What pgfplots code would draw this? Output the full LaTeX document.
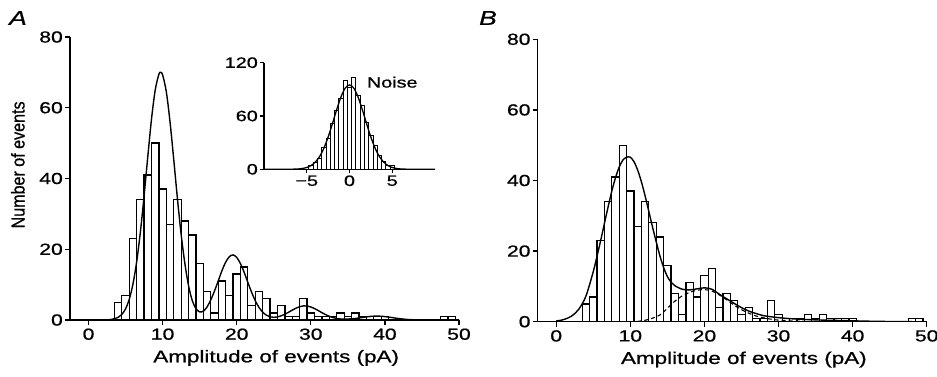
\documentclass[border=0pt]{standalone}
\usepackage{pgfplots}
\pgfplotsset{compat=1.18}
\usepackage{fontspec}
\setmainfont{Liberation Sans}
\newfontfamily\wide[FakeStretch=1.32,FakeBold=0.8]{Liberation Sans}
\newfontfamily\narrow[FakeStretch=0.865,FakeBold=0.8]{Liberation Sans}
\pgfplotsset{
  mainax/.style={
    scale only axis, width=389pt, height=283pt,
    xmin=-2.5, xmax=50, ymin=0, ymax=80,
    axis x line*=bottom, axis y line*=left,
    axis line style={line width=1.3pt},
    xtick={0,10,...,50}, ytick={0,20,...,80},
    tick style={line width=1.3pt, black}, tick align=outside,
    major tick length=5pt,
    tick label style={font=\wide\fontsize{16}{19}\selectfont},
    /pgf/number format/assume math mode=true,
    xlabel={Amplitude of events (pA)},
    xlabel style={font=\wide\fontsize{17}{20}\selectfont, at={(axis description cs:0.53,-0.134)}, anchor=center},
    yticklabel style={inner sep=2pt},
  },
  barsty/.style={ybar interval, fill=white, draw=black, line width=1.25pt},
  curvesty/.style={smooth, line width=1.4pt, black, mark=none},
}
\begin{document}
\begin{tikzpicture}
\path[use as bounding box] (0pt,0pt) rectangle (937pt,377pt);

% ---------------- Panel A ----------------
\begin{axis}[mainax, at={(70pt,57pt)}, anchor=south west,
  ylabel={Number of events},
  ylabel style={font=\narrow\fontsize{18.6}{22}\selectfont, at={(axis description cs:-0.134,0.548)}, anchor=center}]
\addplot[barsty] coordinates {(3.5,5) (4.5,7) (5.5,23) (6.5,34) (7.5,41) (8.5,50) (9.5,37) (10.5,27) (11.5,34) (12.5,28) (13.5,24) (14.5,16) (15.5,8) (16.5,2) (17.5,11) (18.5,7) (19.5,13) (20.5,15) (21.5,4) (22.5,8) (23.5,6) (24.5,2) (25.5,4) (26.5,1) (27.5,1) (28.5,6) (29.5,2) (30.5,1) (31.5,1) (32.5,1) (33.5,2) (34.5,1) (35.5,2) (36.5,1) (37.5,1) (38.5,1) (39.5,1) (40.5,0)};
\addplot[barsty] coordinates {(47.5,1) (48.5,1) (49.5,0)};
\addplot[curvesty] coordinates {(0,0) (1,0) (2,0.01) (3,0.13) (4,0.74) (4.5,1.58) (5,3.16) (5.5,5.87) (6,10.19) (6.5,16.5) (7,24.9) (7.5,35.1) (8,46.2) (8.5,56.8) (9,65.0) (9.5,69.5) (9.75,70.0) (10,69.3) (10.5,64.5) (11,56.0) (11.5,45.4) (12,34.3) (12.5,24.2) (13,16.0) (13.5,9.7) (14,5.5) (14.5,3.2) (15,2.3) (15.5,2.5) (16,3.7) (16.5,5.7) (17,8.2) (17.5,11.0) (18,13.9) (18.5,16.3) (19,17.9) (19.5,18.4) (20,17.7) (20.5,15.95) (21,13.5) (21.5,10.65) (22,7.89) (22.5,5.47) (23,3.57) (23.5,2.22) (24,1.37) (24.5,0.90) (25,0.76) (25.5,0.87) (26,1.18) (26.5,1.64) (27,2.19) (27.5,2.79) (28,3.34) (28.5,3.76) (29,3.98) (29.5,3.96) (30,3.69) (30.5,3.24) (31,2.67) (31.5,2.07) (32,1.51) (32.5,1.04) (33,0.68) (33.5,0.44) (34,0.29) (34.5,0.24) (35,0.26) (35.5,0.33) (36,0.42) (36.5,0.57) (37,0.73) (37.5,0.88) (38,1.00) (38.5,1.08) (39,1.10) (39.5,1.06) (40,0.96) (40.5,0.82) (41,0.67) (41.5,0.51) (42,0.37) (43,0.16) (44,0.06) (45,0.01) (50,0)};
\end{axis}

% ---------------- Inset ----------------
\begin{axis}[scale only axis, width=171pt, height=106.6pt, at={(264pt,207.7pt)}, anchor=south west,
  xmin=-10, xmax=10, ymin=0, ymax=120,
  axis x line*=bottom, axis y line*=left,
  axis line style={line width=1.2pt},
  xtick={-5,0,5}, xticklabels={−5,0,5}, ytick={0,60,120},
  tick style={line width=1.2pt, black}, tick align=outside, major tick length=4pt,
  tick label style={font=\wide\fontsize{15}{18}\selectfont},
  /pgf/number format/assume math mode=true,
  yticklabel style={inner sep=2pt}, xticklabel style={inner sep=2pt}]
\addplot[ybar interval, fill=white, draw=black, line width=0.95pt] coordinates {(-4.75,4) (-4.25,8) (-3.75,12) (-3.25,25) (-2.75,35) (-2.25,52) (-1.75,66) (-1.25,80) (-0.75,100) (-0.25,92) (0.25,103) (0.75,83) (1.25,72) (1.75,53) (2.25,38) (2.75,27) (3.25,15) (3.75,9) (4.25,4) (4.75,4) (5.25,0)};
\addplot[smooth, line width=1.3pt, black] coordinates {(-10,0) (-8,0) (-7,0.05) (-6,0.37) (-5.5,0.9) (-5,2.0) (-4.5,4.2) (-4,8.1) (-3.5,14.3) (-3,23.7) (-2.5,36.2) (-2,51.3) (-1.5,67.1) (-1,81.4) (-0.5,91.4) (0,95) (0.5,91.4) (1,81.4) (1.5,67.1) (2,51.3) (2.5,36.2) (3,23.7) (3.5,14.3) (4,8.1) (4.5,4.2) (5,2.0) (5.5,0.9) (6,0.37) (7,0.05) (8,0) (10,0)};
\node[font=\wide\fontsize{15}{18}\selectfont] at (axis cs:5.0,98) {Noise};
\end{axis}

% ---------------- Panel B ----------------
\begin{axis}[mainax, at={(537.7pt,55.3pt)}, anchor=south west, height=282.4pt]
\addplot[barsty] coordinates {(3.5,5) (4.5,7) (5.5,23) (6.5,34) (7.5,41) (8.5,50) (9.5,37) (10.5,27) (11.5,34) (12.5,28) (13.5,24) (14.5,16) (15.5,8) (16.5,2) (17.5,11) (18.5,7) (19.5,13) (20.5,15) (21.5,4) (22.5,8) (23.5,6) (24.5,2) (25.5,4) (26.5,1) (27.5,1) (28.5,6) (29.5,2) (30.5,1) (31.5,1) (32.5,1) (33.5,2) (34.5,1) (35.5,2) (36.5,1) (37.5,1) (38.5,1) (39.5,1) (40.5,0)};
\addplot[barsty] coordinates {(47.5,1) (48.5,1) (49.5,0)};
\addplot[curvesty] coordinates {(0,0.2) (1,0.6) (2,1.5) (3,3.4) (4,7.2) (5,14.2) (5.5,18.5) (6,23.0) (6.5,27.8) (7,32.5) (7.5,37.0) (8,40.8) (8.5,43.8) (9,45.8) (9.5,46.6) (10,46.6) (10.5,45.3) (11,42.9) (11.5,39.6) (12,35.6) (12.5,31.2) (13,26.8) (13.5,22.6) (14,18.6) (14.5,15.3) (15,12.8) (15.5,11.2) (16,10.2) (17,9.2) (18,9.0) (19,9.3) (20,9.6) (21,9.2) (22,7.8) (23,6.5) (24,5.2) (25,4.0) (26,3.0) (27,2.3) (28,1.7) (29,1.4) (30,1.15) (31,0.95) (32,0.8) (34,0.6) (36,0.45) (38,0.35) (40,0.25) (42,0.15) (44,0.08) (46,0.03) (48,0)};
\addplot[smooth, line width=1.1pt, black, dash pattern=on 4pt off 3pt] coordinates {(10,0) (11,0.1) (12,0.4) (13,1.0) (14,1.9) (15,3.8) (16,5.8) (17,7.3) (18,8.3) (19,8.9) (20,9.1) (21,8.7) (22,7.6) (23,6.2) (24,4.7) (25,3.4) (26,2.4) (27,1.6) (28,1.1) (29,0.7) (30,0.45) (32,0.2) (34,0.08) (36,0.02) (38,0)};
\end{axis}

\node[font=\wide\fontsize{20}{24}\selectfont\itshape] at (18pt,359pt) {A};
\node[font=\wide\fontsize{20}{24}\selectfont\itshape] at (488pt,359pt) {B};
\end{tikzpicture}
\end{document}
